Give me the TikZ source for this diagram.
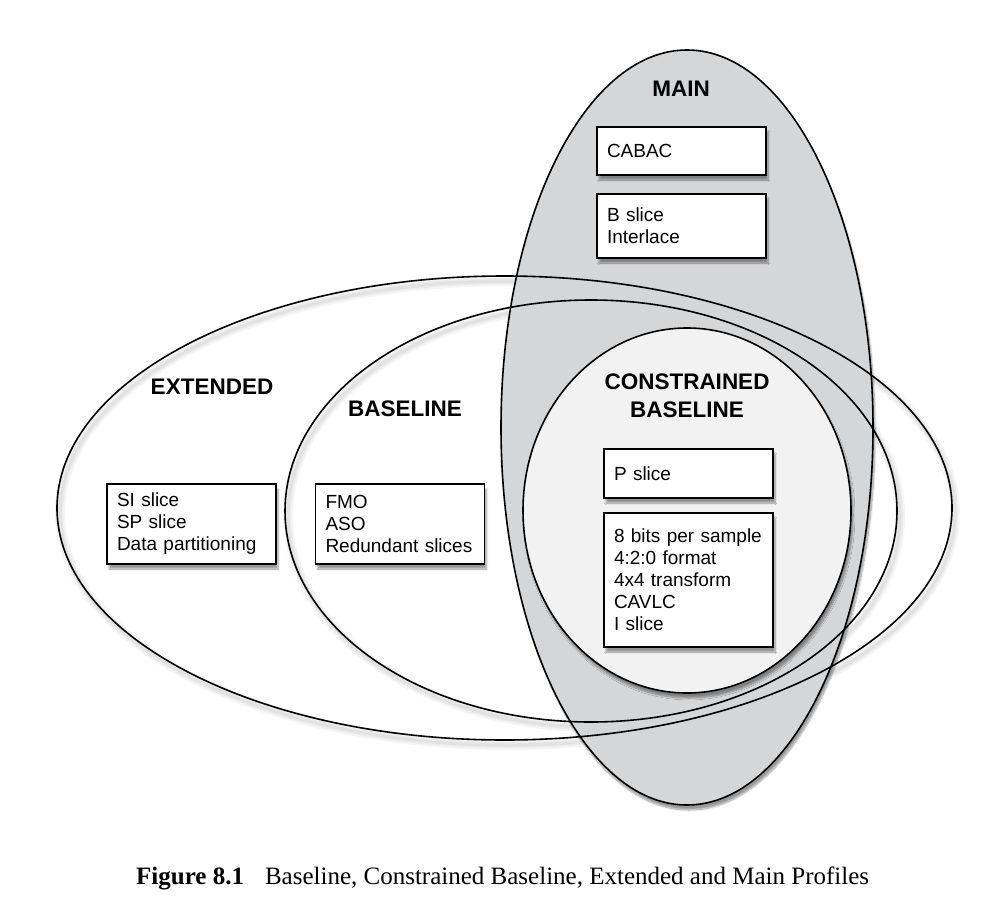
\documentclass[tikz,border=0pt]{standalone}
\usepackage{fontspec}
\setmainfont{Liberation Serif}
\newfontfamily\helv{Liberation Sans}
\usetikzlibrary{shadows.blur}

\definecolor{maingray}{RGB}{213,214,216}
\definecolor{cbgray}{RGB}{242,242,242}

\tikzset{
  profile/.style={line width=1.6pt},
  softshadow/.style={blur shadow={shadow xshift=2pt, shadow yshift=-5pt, shadow blur steps=10, shadow opacity=40}},
  featbox/.style={draw, line width=1.6pt, fill=white, softshadow,
    text width=149pt, inner xsep=10pt, inner ysep=0pt, align=left,
    font=\helv\fontsize{19}{22}\selectfont},
  proftitle/.style={font=\helv\bfseries\fontsize{22.5}{28}\selectfont, align=center, anchor=base},
}

\begin{document}
\begin{tikzpicture}[x=1pt, y=-1pt]

    \useasboundingbox (0,0) rectangle (981,904);

    % 楕円の影 (EXTENDED, BASELINE)
    \foreach \w in {10,6,3} {
      \draw[line width=\w pt, black, opacity=0.04, shift={(3,5)}]
        (504.5,508) ellipse [x radius=447.5, y radius=232];
      \draw[line width=\w pt, black, opacity=0.04, shift={(3,5)}]
        (591,511) ellipse [x radius=306, y radius=211];
    }

    % MAIN
    \path[profile, draw, fill=maingray, softshadow]
      (687,427.5) ellipse [x radius=186, y radius=377.5];

    % EXTENDED, BASELINE
    \draw[profile] (504.5,508) ellipse [x radius=447.5, y radius=232];
    \draw[profile] (591,511) ellipse [x radius=306, y radius=211];

    % CONSTRAINED BASELINE
    \path[profile, draw, fill=cbgray, softshadow]
      (687,510.5) ellipse [x radius=164, y radius=182.5];

    % 機能の箱
    \node[featbox, minimum height=48pt] (cabac) at (681.5,151) {CABAC};
    \node[featbox, minimum height=64pt] (bint) at (681.5,226) {B slice\\Interlace};
    \node[featbox, minimum height=80pt] (sisp) at (191.5,524) {SI slice\\SP slice\\Data partitioning};
    \node[featbox, minimum height=80pt] (fmo) at (400,524) {FMO\\ASO\\Redundant slices};
    \node[featbox, minimum height=49pt] (pslice) at (688.5,473.5) {P slice};
    \node[featbox, minimum height=134pt] (bits) at (688.5,580)
      {8 bits per sample\\4:2:0 format\\4x4 transform\\CAVLC\\I slice};

    % 見出し
    \node[proftitle] (lbl-main) at (681,97) {MAIN};
    \node[proftitle] (lbl-ext) at (212,394) {EXTENDED};
    \node[proftitle] (lbl-base) at (405,416) {BASELINE};
    \node[proftitle] (lbl-cb) at (687,417) {CONSTRAINED\\BASELINE};

    % 図の説明
    \node[anchor=base west, inner sep=0pt, font=\fontsize{25}{30}\selectfont] (caption) at (136,884)
      {\textbf{Figure 8.1}\hspace{21pt}Baseline, Constrained Baseline, Extended and Main Profiles};

\end{tikzpicture}
\end{document}
